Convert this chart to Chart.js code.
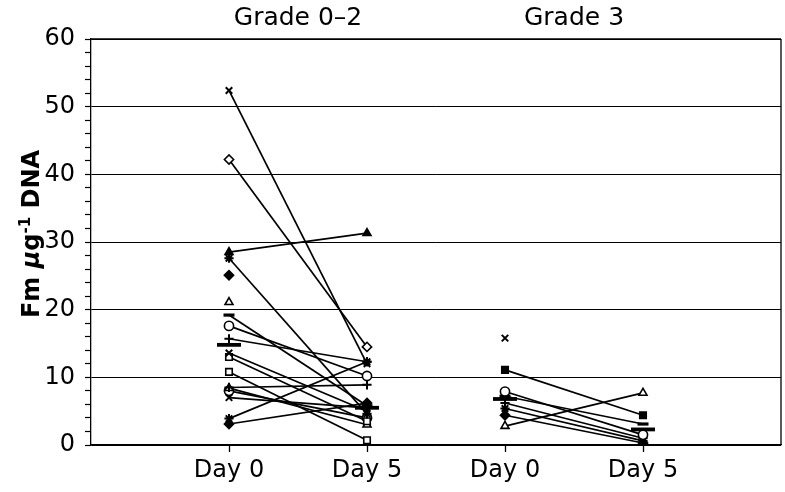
<!DOCTYPE html>
<html><head><meta charset="utf-8">
<script src="https://cdn.jsdelivr.net/npm/chart.js@4/dist/chart.umd.min.js"></script>
<style>html,body{margin:0;padding:0;background:#fff;} #wrap{width:785px;height:492px;position:relative}</style>
</head><body><div id="wrap"><canvas id="c" width="785" height="492"></canvas></div>
<script>
// ---- data ----
const categories = ['Day 0', 'Day 5', 'Day 0', 'Day 5'];
const groups = ['Grade 0\u20132', 'Grade 3'];
const yTitle = ['Fm ', '\u03bc', 'g', '-1', ' DNA'];

const g02Day0 = [52.4, 42.2, 28.5, 27.6, 25.1, 21.1, 19.2, 17.6, 15.7, 13.6, 13.0, 10.8, 8.5, 8.4, 8.0, 7.0, 3.9, 3.1];
const g02Day5 = [12.0, 14.5, 31.3, 4.6, null, null, 5.8, 10.2, 12.3, 5.0, 3.5, 0.7, 8.9, 3.0, 4.0, 5.5, 12.3, 6.2];
const g02Marks = ['crossRot','rectRot-open','triangle-fill','star','rectRot-fill','triangle-open','line-fill','circle-open','cross-fill','crossRot','rect-open','rect-open','cross-fill','triangle-open','circle-open','crossRot','star','rectRot-fill'];

const g3Day0 = [15.8, 11.1, 7.9, 7.2, 6.2, 5.4, 4.4, 2.8];
const g3Day5 = [null, 4.4, 1.5, 3.1, 1.0, 0.6, 0.3, 7.7];
const g3Marks = ['crossRot','rect-fill','circle-open','line-fill','cross-fill','star','rectRot-fill','triangle-open'];

const g02Mean = [14.8, 5.5];
const g3Mean = [6.8, 2.3];

// ---- build ----
const FONT = "'DejaVu Sans', sans-serif";
const datasets = [];
function addGroup(d0, d5, marks, catIndex) {
  d0.forEach((v, i) => {
    const [shape, fill] = marks[i].split('-');
    const isLine = shape === 'line';
    const isCross = shape === 'cross' || shape === 'crossRot' || shape === 'star';
    datasets.push({
      data: [{x: catIndex + 1, y: v}, {x: catIndex + 2, y: d5[i]}],
      showLine: true,
      borderColor: '#000',
      borderWidth: 1.7,
      pointStyle: shape,
      pointBackgroundColor: fill === 'open' ? '#fff' : '#000',
      pointBorderColor: '#000',
      pointBorderWidth: isLine ? 3.2 : (isCross ? 2 : 1.6),
      pointRadius: isLine ? 5.5 : 4.6,
      spanGaps: false
    });
  });
}
function addMean(vals, catIndex) {
  datasets.push({
    data: vals.map((v, i) => ({x: catIndex + 1 + i, y: v})),
    showLine: false,
    pointStyle: 'line',
    pointRadius: 12,
    pointBorderWidth: 3.8,
    pointBorderColor: '#000',
    pointBackgroundColor: '#000'
  });
}
addGroup(g02Day0, g02Day5, g02Marks, 0);
addGroup(g3Day0, g3Day5, g3Marks, 2);
addMean(g02Mean, 0);
addMean(g3Mean, 2);

const decor = {
  id: 'decor',
  afterDraw(chart) {
    const ctx = chart.ctx, a = chart.chartArea, xs = chart.scales.x;
    ctx.save();
    ctx.strokeStyle = '#000';
    ctx.lineWidth = 1.3;
    ctx.beginPath();
    ctx.moveTo(a.right, a.top); ctx.lineTo(a.right, a.bottom);
    ctx.moveTo(a.left, a.top); ctx.lineTo(a.right, a.top);
    ctx.stroke();
    // group titles
    ctx.fillStyle = '#000';
    ctx.font = '25px ' + FONT;
    ctx.textAlign = 'center';
    ctx.textBaseline = 'alphabetic';
    groups.forEach((g, i) => {
      const cx = (xs.getPixelForValue(2 * i + 1) + xs.getPixelForValue(2 * i + 2)) / 2;
      ctx.fillText(g, cx, 25);
    });
    // y title
    const big = 'bold 24px ' + FONT, ital = 'italic bold 24px ' + FONT, small = 'bold 15px ' + FONT;
    const fonts = [big, ital, big, small, big];
    const rise = [0, 0, 0, -9, 0];
    let widths = yTitle.map((t, i) => { ctx.font = fonts[i]; return ctx.measureText(t).width; });
    const total = widths.reduce((s, w) => s + w, 0);
    ctx.translate(39, 234);
    ctx.rotate(-Math.PI / 2);
    ctx.textAlign = 'left';
    let xx = -total / 2;
    yTitle.forEach((t, i) => { ctx.font = fonts[i]; ctx.fillText(t, xx, rise[i]); xx += widths[i]; });
    ctx.restore();
  }
};

new Chart(document.getElementById('c'), {
  type: 'scatter',
  data: { datasets },
  options: {
    responsive: false,
    animation: false,
    events: [],
    layout: { autoPadding: false, padding: { top: 39, right: 4, left: 0, bottom: 0 } },
    plugins: { legend: { display: false }, tooltip: { enabled: false } },
    scales: {
      x: {
        type: 'linear', min: 0, max: categories.length + 1,
        afterBuildTicks: (s) => { s.ticks = categories.map((c, i) => ({ value: i + 1 })); },
        afterFit: (s) => { s.height = 47; s.paddingLeft = 0; s.paddingRight = 0; },
        ticks: {
          autoSkip: false, maxRotation: 0, padding: 4,
          color: '#000', font: { family: FONT, size: 24 },
          callback: (v) => categories[v - 1] || ''
        },
        grid: { drawOnChartArea: false, drawTicks: true, tickLength: 7, tickColor: '#000', tickWidth: 1.3 },
        border: { color: '#000', width: 1.3 }
      },
      y: {
        min: 0, max: 60,
        afterFit: (s) => { s.width = 91; s.paddingTop = 0; s.paddingBottom = 0; },
        ticks: {
          stepSize: 2, autoSkip: false, padding: 10,
          color: '#000', font: { family: FONT, size: 24 },
          callback: (v) => (v % 10 === 0 ? v : '')
        },
        grid: {
          color: (c) => (c.tick && c.tick.value % 10 === 0 ? '#000' : 'rgba(0,0,0,0)'),
          lineWidth: 1, tickLength: 6, tickColor: '#000', tickWidth: 1.2
        },
        border: { color: '#000', width: 1.3 }
      }
    }
  },
  plugins: [decor]
});
</script>
</body></html>
